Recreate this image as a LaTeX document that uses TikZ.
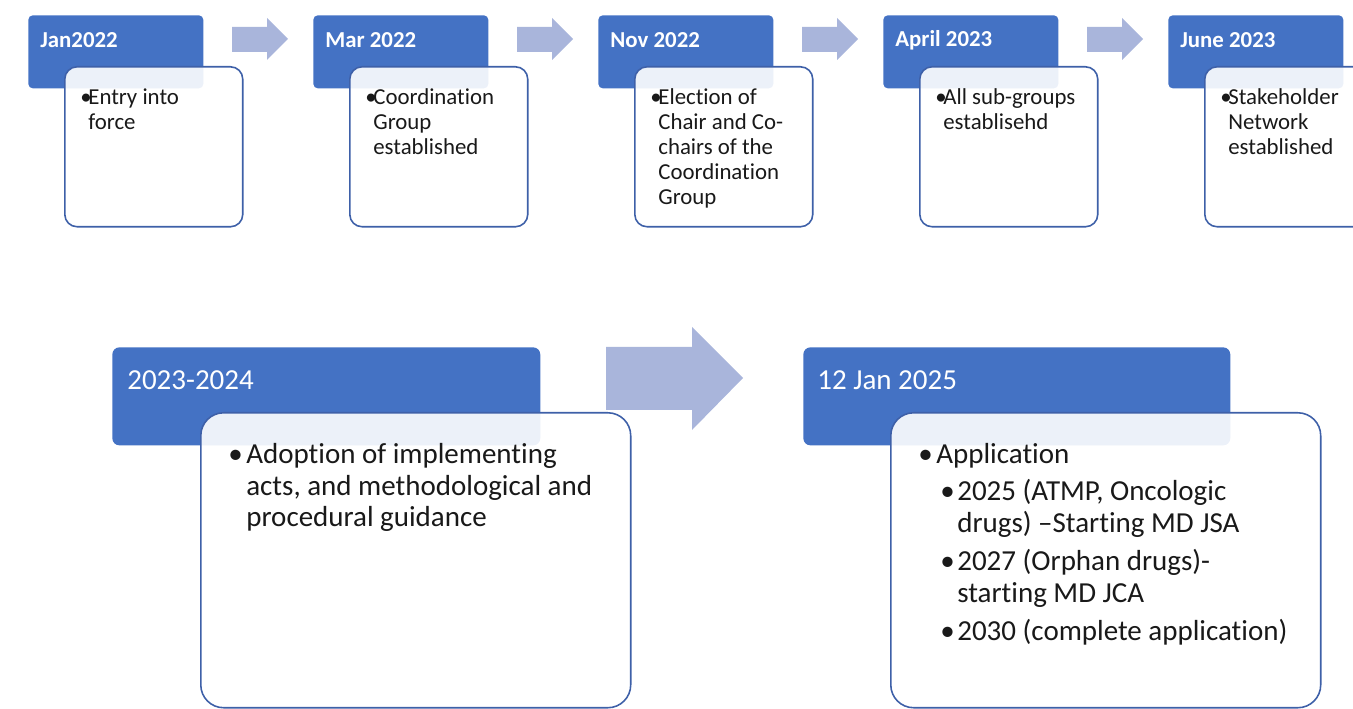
\documentclass[tikz,border=0pt]{standalone}
\usepackage{fontspec}
\setmainfont{Carlito}[Ligatures={TeX,NoCommon}]
\definecolor{hdrblue}{RGB}{68,114,196}
\definecolor{arrblue}{RGB}{169,181,219}
\definecolor{lineblue}{RGB}{62,96,168}
\newcommand{\pnt}[3]{\hspace*{#1}\makebox[#2][l]{\textbullet}\begin{tabular}[t]{@{}l@{}}#3\end{tabular}}
\begin{document}
\begin{tikzpicture}[x=0.02cm,y=-0.02cm,
	datebox/.style={fill=hdrblue,rounded corners=2.5pt,anchor=north west,inner sep=0pt},
	eventbox/.style={draw=lineblue,line width=0.9pt,fill=white,fill opacity=0.9,rounded corners=7pt,anchor=north west,inner sep=0pt},
	datetxt/.style={anchor=west,inner sep=0pt,text=white,font=\bfseries\fontsize{13}{14}\selectfont},
	eventtxt/.style={anchor=north west,inner sep=0pt,align=left,text=black!90,font=\fontsize{13}{14.2}\selectfont},
	steparrow/.style={fill=arrblue}]
	\clip (0,0) rectangle (1353,709);
	\foreach \i/\when/\what in {0/Jan2022/{Entry into\\force},
		1/Mar 2022/{Coordination\\Group\\established},
		2/Nov 2022/{Election of\\Chair and Co-\\chairs of the\\Coordination\\Group},
		3/April 2023/{All sub-groups\\establisehd},
		4/June 2023/{Stakeholder\\Network\\established}}{
		\node[datebox,minimum width=3.5cm,minimum height=1.46cm] (date\i) at (28+285*\i,15) {};
		\node[datetxt] (datetxt\i) at (40+285*\i,40) {\when};
		\node[eventbox,minimum width=3.56cm,minimum height=3.2cm] (event\i) at (64+285*\i,66) {};
		\node[eventtxt] (eventtxt\i) at (80+285*\i,87) {\pnt{0pt}{0.16cm}{\what}};
	}
	\foreach \i in {0,...,3}
		\fill[steparrow] (232+285*\i,27) -- ++(35,0) -- ++(0,-9) -- ++(21,21) -- ++(-21,21) -- ++(0,-8) -- ++(-35,0) -- cycle;
	\node[datebox,rounded corners=4pt,minimum width=8.56cm,minimum height=1.96cm] (date5) at (112,347) {};
	\node[datetxt,font=\fontsize{16.5}{18}\selectfont] (datetxt5) at (127,380) {2023-2024};
	\node[eventbox,rounded corners=13pt,minimum width=8.6cm,minimum height=5.9cm] (event5) at (200,412) {};
	\node[eventtxt,font=\fontsize{16.5}{18}\selectfont] (eventtxt5) at (228,441)
		{\pnt{0pt}{0.36cm}{Adoption of implementing\\acts, and methodological and\\procedural guidance}};
	\fill[steparrow] (606,347) -- ++(86,0) -- ++(0,-20) -- ++(51,51) -- ++(-51,52) -- ++(0,-20) -- ++(-86,0) -- cycle;
	\node[datebox,rounded corners=4pt,minimum width=8.54cm,minimum height=1.96cm] (date6) at (803,347) {};
	\node[datetxt,font=\fontsize{16.5}{18}\selectfont] (datetxt6) at (817,380) {12 Jan 2025};
	\node[eventbox,rounded corners=13pt,minimum width=8.6cm,minimum height=5.9cm] (event6) at (890,412) {};
	\node[eventtxt,font=\fontsize{16.5}{18}\selectfont] (eventtxt6) at (918,441)
		{\pnt{0pt}{0.36cm}{Application}\\[3pt]
		\pnt{0.44cm}{0.34cm}{2025 (ATMP, Oncologic\\drugs) –Starting MD JSA}\\[3pt]
		\pnt{0.44cm}{0.34cm}{2027 (Orphan drugs)-\\starting MD JCA}\\[3pt]
		\pnt{0.44cm}{0.34cm}{2030 (complete application)}};
\end{tikzpicture}
\end{document}
